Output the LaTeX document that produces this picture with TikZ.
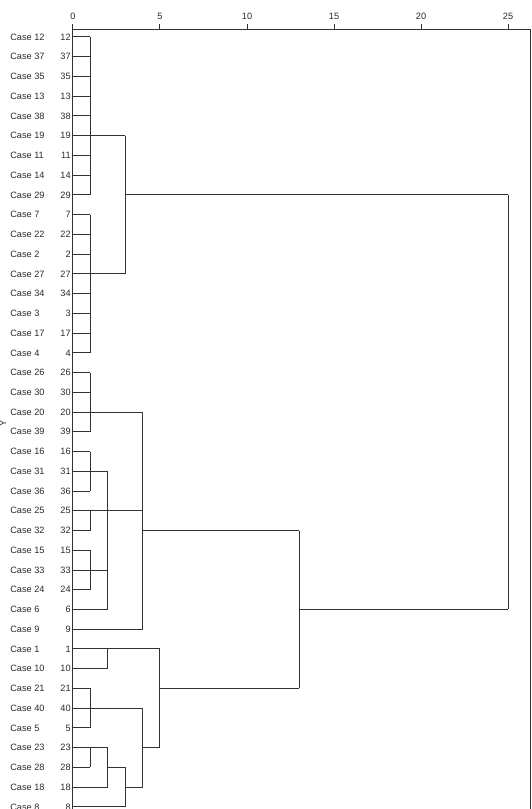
\documentclass[tikz,border=0pt]{standalone}
\usepackage{fontspec}
\setmainfont{Liberation Sans}
\usetikzlibrary{positioning, calc}
\definecolor{dgLine}{HTML}{333333}
\definecolor{dgText}{HTML}{2A2A2A}

\begin{document}
\begin{tikzpicture}[x=13.05pt, y=-14.805pt,
    link/.style={draw=dgLine, line width=0.75pt},
    lbl/.style={font=\fontsize{6.9}{8}\selectfont, text=dgText, inner sep=0pt}]
  \useasboundingbox (-4.195,-1.874) rectangle (26.322,39.107);
  % frame and distance axis
  \coordinate (fb0) at (0,39.3);
  \coordinate (ax0) at (0,-0.405);
  \coordinate (ax1) at (26.3,-0.405);
  \coordinate (fb1) at (26.3,39.3);
  \draw[link] (fb0) -- (ax0) -- (ax1);
  \draw[link, line width=1pt] (ax1) -- (fb1);
  \foreach \t in {0,5,...,25} {
    \coordinate (tk\t) at (\t,-0.405);
    \draw[link] (tk\t) -- ++(0,-0.26) node[lbl, above=2.6pt] (tl\t) {\t};
  }
  % cases
  \foreach \c [count=\r from 0] in {12,37,35,13,38,19,11,14,29,7,22,2,27,34,3,17,4,26,30,20,39,16,31,36,25,32,15,33,24,6,9,1,10,21,40,5,23,28,18,8} {
    \coordinate (l\c) at (0,\r);
    \node[lbl, anchor=east] (n\c) at (-0.115,\r) {\c};
    \node[lbl, anchor=west] (k\c) at (-3.62,\r) {Case \c};
  }
  \node[lbl, rotate=90] (ylab) at (-4.02,19.55) {Y};
  % leaf links
  \foreach \c/\d in {12/1,37/1,35/1,13/1,38/1,19/3,11/1,14/1,29/1,7/1,22/1,2/1,27/3,34/1,3/1,17/1,4/1,
      26/1,30/1,20/4,39/1,16/1,31/2,36/1,25/4,32/1,15/1,33/2,24/1,6/2,9/4,
      1/5,10/2,21/1,40/4,5/1,23/2,28/1,18/2,8/3}
    \draw[link] (l\c) -- ($(l\c)+(\d,0)$);
  % merges
  \foreach \d/\a/\b in {1/12/29,1/7/4,1/26/39,1/16/36,1/25/32,1/15/24,1/21/5,1/23/28,
      2/31/6,2/1/10,2/23/18,3/19/27,3/28/8,4/20/9,4/40/18,5/1/23,13/32/21,25/29/6}
    \draw[link] ($(l\a)+(\d,0)$) -- ($(l\b)+(\d,0)$);
  % cluster links
  \foreach \c/\a/\b in {29/3/25,32/4/13,6/13/25,21/5/13,23/4/5,28/2/3,18/3/4}
    \draw[link] ($(l\c)+(\a,0)$) -- ($(l\c)+(\b,0)$);
\end{tikzpicture}
\end{document}
